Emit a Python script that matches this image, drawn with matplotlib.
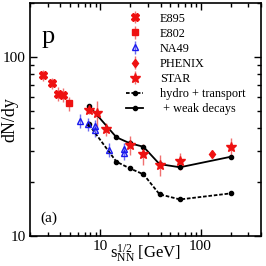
import numpy as np
import matplotlib
matplotlib.use('Agg')
import matplotlib.pyplot as plt
from matplotlib.ticker import LogLocator, NullFormatter, FixedLocator, FixedFormatter

plt.rcParams['font.family'] = ['Liberation Serif', 'DejaVu Serif']
plt.rcParams['mathtext.fontset'] = 'custom'
plt.rcParams['mathtext.rm'] = 'Liberation Serif'
plt.rcParams['mathtext.it'] = 'Liberation Serif:italic'

# E895
e895_x = [2.7, 3.3, 3.8, 4.3]
e895_y = [79.3, 71.3, 62.0, 61.3]
e895_err = [5.5, 5.0, 5.5, 5.5]

# E802
e802_x = [4.9]
e802_y = [55.1]
e802_err = [5.0]

# NA49
na49_x = [6.3, 7.6, 8.8, 8.8, 12.3, 17.3, 17.3]
na49_y = [44.1, 42.2, 41.2, 39.2, 30.2, 30.5, 29.0]
na49_err = [3.8, 3.6, 3.5, 3.4, 2.7, 2.7, 2.6]

# PHENIX
phenix_x = [130]
phenix_y = [28.7]
phenix_err = [1.2]

# STAR
star_x = [7.7, 9.2, 11.5, 19.6, 27, 39, 62.4, 200]
star_y = [50.6, 48.5, 39.5, 32.2, 28.7, 24.9, 26.3, 31.5]
star_err = [2.5, 8.0, 3.5, 4.0, 3.8, 3.3, 2.9, 3.8]

# model curves
hydro_x = [7.7, 14.5, 19.6, 27, 39, 62.4, 200]
hydro_y = [42.0, 26.0, 23.9, 22.1, 17.1, 16.0, 17.3]
weak_y = [53.5, 35.6, 33.0, 31.5, 25.2, 24.2, 27.7]

red = '#ee1111'
red_err = '#f07070'
blue = '#1a1aee'
blue_err = '#6a6af0'

fig = plt.figure(figsize=(2.66, 2.66), dpi=100)
ax = fig.add_axes([30/266, 30/266, 231/266, 233/266])

h1 = ax.errorbar(e895_x, e895_y, yerr=e895_err, fmt='X', color=red, ecolor=red_err,
                 ms=5.5, elinewidth=1, capsize=0, label='E895')
h2 = ax.errorbar(e802_x, e802_y, yerr=e802_err, fmt='s', color=red, ecolor=red_err,
                 ms=4.5, elinewidth=1, capsize=0, label='E802')
h3 = ax.errorbar(na49_x, na49_y, yerr=na49_err, fmt='^', color=blue, ecolor=blue_err,
                 mfc='none', mec=blue, mew=1, ms=5, elinewidth=1, capsize=0, label='NA49')
h4 = ax.errorbar(phenix_x, phenix_y, yerr=phenix_err, fmt='d', color=red, ecolor=red_err,
                 ms=4.5, elinewidth=1, capsize=0, label='PHENIX')
h5 = ax.errorbar(star_x, star_y, yerr=star_err, fmt='*', color=red, ecolor=red_err,
                 ms=7, elinewidth=1, capsize=0, label='STAR')
h6, = ax.plot(hydro_x, hydro_y, color='black', ls=(0, (2, 1)), lw=1.3, marker='o', ms=3,
              label='hydro + transport')
h7, = ax.plot(hydro_x, weak_y, color='black', ls='-', lw=1.3, marker='o', ms=3,
              label=' + weak decays')

ax.set_xscale('log')
ax.set_yscale('log')
ax.set_xlim(2, 400)
ax.set_ylim(10, 200)

ax.xaxis.set_major_locator(FixedLocator([10, 100]))
ax.xaxis.set_major_formatter(FixedFormatter(['10', '100']))
ax.xaxis.set_minor_locator(LogLocator(base=10, subs=np.arange(2, 10)))
ax.xaxis.set_minor_formatter(NullFormatter())
ax.yaxis.set_major_locator(FixedLocator([10, 100]))
ax.yaxis.set_major_formatter(FixedFormatter(['10', '100']))
ax.yaxis.set_minor_locator(LogLocator(base=10, subs=np.arange(2, 10)))
ax.yaxis.set_minor_formatter(NullFormatter())

ax.tick_params(which='both', direction='in', top=True, right=True, labelsize=11, width=1)
ax.tick_params(which='major', length=5, pad=3)
ax.tick_params(which='minor', length=3)
for s in ax.spines.values():
    s.set_linewidth(1.2)

ax.set_xlabel(r'$\mathrm{s_{NN}^{1/2}}$ [GeV]', fontsize=12, va='center')
ax.xaxis.set_label_coords(0.50, -0.075)
ax.set_ylabel('dN/dy', fontsize=13, va='center')
ax.yaxis.set_label_coords(-0.085, 0.5)

ax.text(0.078, 0.855, 'p', transform=ax.transAxes, fontsize=19, ha='center', va='center')
ax.text(0.082, 0.077, '(a)', transform=ax.transAxes, fontsize=11, ha='center', va='center')

ax.legend([h1, h2, h3, h4, h5, h6, h7],
          ['E895', 'E802', 'NA49', 'PHENIX', 'STAR', 'hydro + transport', ' + weak decays'],
          loc='upper left', bbox_to_anchor=(0.385, 0.99), frameon=False, fontsize=8.8,
          handlelength=1.4, handletextpad=1.35, labelspacing=0.25, borderaxespad=0.2)

fig.savefig('out.png', dpi=100)
